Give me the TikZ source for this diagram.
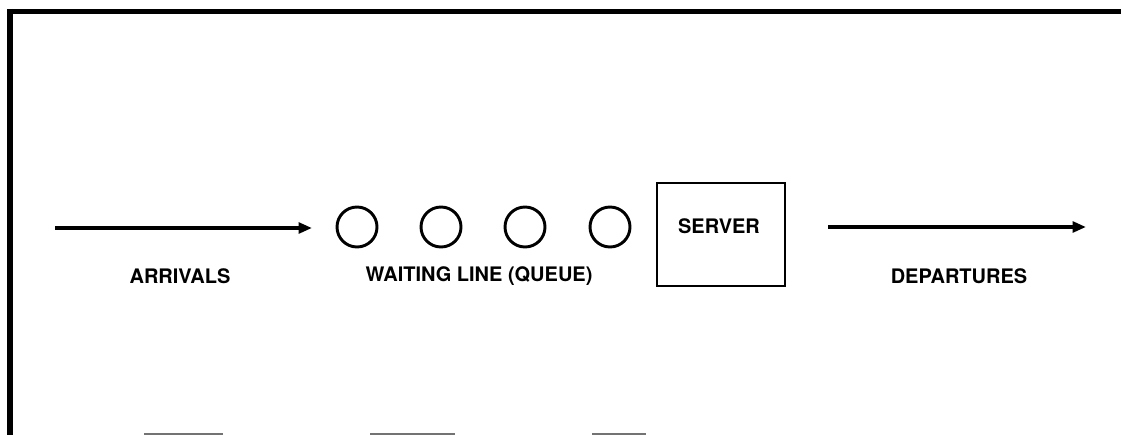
\documentclass[tikz,border=0pt]{standalone}
\usepackage{fontspec}
\setmainfont{TeX Gyre Heros}
\usetikzlibrary{arrows.meta}
\begin{document}
\begin{tikzpicture}[x=0.75pt,y=-0.75pt,
  lbl/.style={font=\fontsize{15}{18}\selectfont\bfseries, inner sep=0pt},
  flow/.style={line width=3pt, -{Triangle[length=10pt,width=8pt]}, shorten >=0pt},
  cust/.style={circle, draw, line width=2.2pt, minimum size=30pt, inner sep=0pt},
  srv/.style={rectangle, draw, line width=1.5pt, minimum width=96pt, minimum height=77pt, inner sep=0pt},
  frame/.style={line width=4pt},
  scan/.style={line width=1.5pt, draw=black!55}]
\useasboundingbox (0,0) rectangle (1121,435);
% frame
\coordinate (ftl) at (10,11.5);
\coordinate (ftr) at (1121,11.5);
\coordinate (fbl) at (10,435);
\draw[frame] (ftr) -- (ftl);
\draw[line width=4.5pt] (10,9) -- (fbl);
% faint scan fragments at bottom
\coordinate (s1a) at (144,433.5); \coordinate (s1b) at (223,433.5);
\coordinate (s2a) at (370,433.5); \coordinate (s2b) at (455,433.5);
\coordinate (s3a) at (592,433.5); \coordinate (s3b) at (646,433.5);
\draw[scan] (s1a) -- (s1b);
\draw[scan] (s2a) -- (s2b);
\draw[scan] (s3a) -- (s3b);
% arrivals
\coordinate (arrS) at (55,228);
\coordinate (arrE) at (312,228);
\draw[flow] (arrS) -- (arrE);
\node[lbl] (arrivals) at (180,276) {ARRIVALS};
% queue
\node[cust] (q1) at (357,227) {};
\node[cust] (q2) at (441,227) {};
\node[cust] (q3) at (525,227) {};
\node[cust] (q4) at (610,227) {};
\node[lbl] (queue) at (479,276) {WAITING LINE (QUEUE)};
% server
\node[srv] (server) at (721,234.5) {};
\node[lbl] (servertxt) at (719,226) {SERVER};
% departures
\coordinate (depS) at (828,227);
\coordinate (depE) at (1086,227);
\draw[flow] (depS) -- (depE);
\node[lbl] (departures) at (959,276) {DEPARTURES};
\end{tikzpicture}
\end{document}
